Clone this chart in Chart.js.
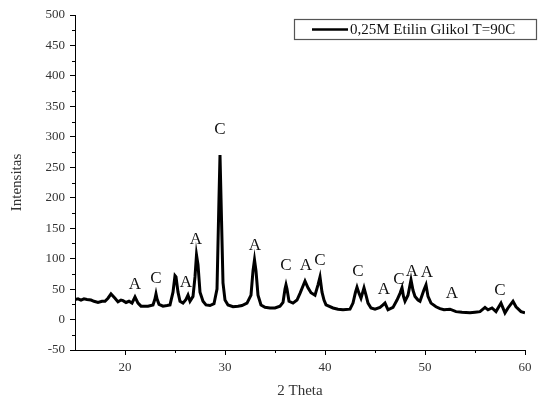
<!DOCTYPE html>
<html>
<head>
<meta charset="utf-8">
<script src="https://cdn.jsdelivr.net/npm/chart.js@4"></script>
<style>
  html, body { margin: 0; padding: 0; background: #fff; }
  #wrap { width: 538px; height: 400px; position: relative; }
</style>
</head>
<body>
<div id="wrap"><canvas id="xrd"></canvas></div>
<script>
// XRD pattern, 0,25M etilin glikol at 90C
const seriesLabel = '0,25M Etilin Glikol T=90C';

const twoTheta = [
  15.0, 15.3, 15.6, 15.9, 16.2, 16.6, 16.9, 17.3, 17.7, 18.0,
  18.3, 18.6, 19.0, 19.3, 19.6, 19.8, 20.1, 20.4, 20.7, 21.0,
  21.3, 21.6, 22.0, 22.3, 22.8, 23.0, 23.1, 23.2, 23.4, 23.8,
  24.2, 24.5, 24.8, 25.0, 25.1, 25.3, 25.5, 25.8, 26.1, 26.3,
  26.5, 26.8, 27.0, 27.15, 27.3, 27.5, 27.8, 28.1, 28.5, 28.9,
  29.2, 29.4, 29.5, 29.6, 29.8, 30.0, 30.3, 30.8, 31.3, 31.7,
  32.2, 32.6, 32.8, 32.95, 33.1, 33.3, 33.6, 34.0, 34.5, 35.0,
  35.5, 35.8, 36.0, 36.1, 36.2, 36.4, 36.8, 37.2, 37.5, 37.8,
  38.0, 38.3, 38.6, 39.0, 39.3, 39.5, 39.7, 39.9, 40.1, 40.8,
  41.3, 41.8, 42.5, 42.8, 43.05, 43.2, 43.4, 43.6, 43.9, 44.1,
  44.3, 44.6, 45.0, 45.5, 45.8, 46.0, 46.3, 46.8, 47.2, 47.5,
  47.7, 47.85, 48.0, 48.3, 48.6, 48.8, 49.0, 49.3, 49.5, 49.9,
  50.1, 50.3, 50.6, 51.1, 51.5, 51.9, 52.5, 53.1, 53.7, 54.5,
  55.0, 55.5, 56.0, 56.3, 56.7, 57.1, 57.6, 58.0, 58.3, 58.8,
  59.1, 59.6, 60.0
];
const intensity = [
  33, 34, 32, 34, 33, 32, 30, 28, 30, 30,
  35, 42, 35, 29, 32, 31, 28, 30, 27, 37,
  27, 22, 22, 22, 24, 34, 42, 34, 25, 22,
  23, 24, 45, 72, 70, 45, 30, 27, 33, 40,
  30, 38, 70, 106, 90, 45, 30, 24, 23, 26,
  50, 200, 270, 200, 60, 32, 24, 21, 22, 23,
  27, 40, 80, 98, 80, 40, 24, 20, 19, 19,
  22, 28, 50, 57, 50, 30, 27, 32, 43, 55,
  63, 52, 44, 40, 57, 70, 45, 32, 24, 19,
  17, 16, 17, 27, 45, 53, 43, 35, 52, 40,
  27, 19, 17, 20, 24, 27, 16, 20, 32, 43,
  52, 38, 30, 40, 65, 48, 38, 32, 30, 49,
  57, 38, 27, 21, 18, 16, 17, 13, 12, 11,
  12, 13, 20, 16, 19, 13, 27, 11, 19, 30,
  21, 13, 11
];

// phase markers above the peaks (A / C)
const peakTags = ['A', 'C', 'A', 'A', 'C', 'A', 'C', 'A', 'C', 'C', 'A', 'C', 'A', 'A', 'A', 'C'];
const peakTagX = [21.0, 23.1, 26.1, 27.1, 29.5, 33.0, 36.1, 38.1, 39.5, 43.3, 45.9, 47.4, 48.7, 50.2, 52.7, 57.5];
const peakTagY = [57, 68, 61, 132, 312, 121, 88, 88, 97, 79, 49, 66, 79, 78, 42, 48];

const xTickValues = [20, 30, 40, 50, 60];
const xMinorValues = [25, 35, 45, 55];
const yTickValues = [-50, 0, 50, 100, 150, 200, 250, 300, 350, 400, 450, 500];
const yMinorValues = [-25, 25, 75, 125, 175, 225, 275, 325, 375, 425, 475];

const serif = '"Liberation Serif", "Times New Roman", serif';

const points = twoTheta.map((t, i) => ({ x: t, y: intensity[i] }));

const minorTicks = {
  id: 'minorTicks',
  afterDraw(chart) {
    const ctx = chart.ctx;
    const xs = chart.scales.x, ys = chart.scales.y;
    ctx.save();
    ctx.strokeStyle = '#000';
    ctx.lineWidth = 1;
    ctx.beginPath();
    xMinorValues.forEach(v => {
      const px = Math.round(xs.getPixelForValue(v)) + 0.5;
      ctx.moveTo(px, ys.bottom);
      ctx.lineTo(px, ys.bottom + 3);
    });
    yMinorValues.forEach(v => {
      const py = Math.round(ys.getPixelForValue(v)) + 0.5;
      ctx.moveTo(xs.left, py);
      ctx.lineTo(xs.left - 3, py);
    });
    ctx.stroke();
    ctx.restore();
  }
};

const peakLetters = {
  id: 'peakLetters',
  afterDatasetsDraw(chart) {
    const ctx = chart.ctx;
    const xs = chart.scales.x, ys = chart.scales.y;
    ctx.save();
    ctx.fillStyle = '#111';
    ctx.font = '17px ' + serif;
    ctx.textAlign = 'center';
    ctx.textBaseline = 'middle';
    peakTags.forEach((tag, i) => {
      ctx.fillText(tag, xs.getPixelForValue(peakTagX[i]), ys.getPixelForValue(peakTagY[i]));
    });
    ctx.restore();
  }
};

const boxLegend = {
  id: 'boxLegend',
  afterDraw(chart) {
    const ctx = chart.ctx;
    const ds = chart.data.datasets[0];
    const x0 = 294, y0 = 19, w = 243, h = 20;
    ctx.save();
    ctx.strokeStyle = '#555';
    ctx.lineWidth = 1.2;
    ctx.strokeRect(x0 + 0.5, y0 + 0.5, w - 1, h);
    ctx.strokeStyle = ds.borderColor;
    ctx.lineWidth = 2.5;
    ctx.beginPath();
    ctx.moveTo(x0 + 18, y0 + h / 2 + 0.5);
    ctx.lineTo(x0 + 54, y0 + h / 2 + 0.5);
    ctx.stroke();
    ctx.fillStyle = '#111';
    ctx.font = '15px ' + serif;
    ctx.textAlign = 'left';
    ctx.textBaseline = 'middle';
    ctx.fillText(ds.label, x0 + 56, y0 + h / 2 + 1);
    ctx.restore();
  }
};

new Chart(document.getElementById('xrd'), {
  type: 'line',
  data: {
    datasets: [{
      label: seriesLabel,
      data: points,
      borderColor: '#000',
      borderWidth: 3,
      pointRadius: 0,
      tension: 0,
      fill: false
    }]
  },
  options: {
    responsive: true,
    maintainAspectRatio: false,
    animation: false,
    layout: { padding: { top: 15, right: 13, left: 0, bottom: 0 } },
    plugins: {
      legend: { display: false },
      tooltip: { enabled: false }
    },
    scales: {
      x: {
        type: 'linear',
        min: 15,
        max: 60,
        afterBuildTicks: s => { s.ticks = xTickValues.map(v => ({ value: v })); },
        afterFit: s => { s.height = 50; },
        border: { display: true, color: '#000', width: 1 },
        grid: { drawOnChartArea: false, tickLength: 5, color: '#000' },
        ticks: { color: '#333', padding: 5, font: { family: serif, size: 13 } },
        title: {
          display: true,
          text: '2 Theta',
          color: '#333',
          font: { family: serif, size: 15 },
          padding: { top: 0, bottom: 0 }
        }
      },
      y: {
        type: 'linear',
        min: -50,
        max: 500,
        afterBuildTicks: s => { s.ticks = yTickValues.map(v => ({ value: v })); },
        afterFit: s => { s.width = 75; },
        border: { display: true, color: '#000', width: 1 },
        grid: { drawOnChartArea: false, tickLength: 5, color: '#000' },
        ticks: { color: '#333', padding: 5, font: { family: serif, size: 13 } },
        title: {
          display: true,
          text: 'Intensitas',
          color: '#333',
          font: { family: serif, size: 15 },
          padding: { top: 8, bottom: 4 }
        }
      }
    }
  },
  plugins: [minorTicks, peakLetters, boxLegend]
});
</script>
</body>
</html>
